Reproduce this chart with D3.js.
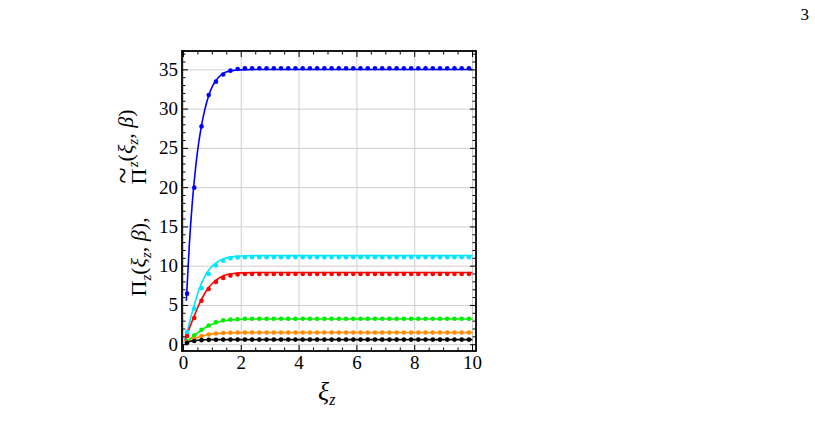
<!DOCTYPE html>
<html>
<head>
<meta charset="utf-8">
<script src="https://cdn.jsdelivr.net/npm/d3@7"></script>
<style>
  body { margin: 0; background: #fff; }
</style>
</head>
<body>
<svg id="chart" width="815" height="440"></svg>
<script>
// sampling points of the solid curves, Pi_z
var lineX = [0.05, 0.1, 0.2, 0.3, 0.4, 0.5, 0.6, 0.7, 0.8, 0.9, 1.0, 1.2, 1.4, 1.6, 1.8, 2.0, 2.5, 3, 4, 6, 8, 10];
var blueLine   = [null, 5.6, 12.5, 17.8, 21.8, 25.0, 27.4, 29.3, 30.8, 32.0, 32.9, 34.0, 34.6, 34.85, 34.95, 35.0, 35.05, 35.05, 35.05, 35.05, 35.05, 35.05];
var cyanLine   = [0.6, 1.3, 2.7, 4.1, 5.4, 6.6, 7.6, 8.4, 9.1, 9.6, 10.0, 10.6, 10.95, 11.15, 11.25, 11.3, 11.35, 11.35, 11.35, 11.35, 11.35, 11.35];
var redLine    = [0.5, 1.0, 2.0, 3.0, 3.9, 4.8, 5.6, 6.3, 6.9, 7.4, 7.8, 8.4, 8.8, 9.0, 9.1, 9.15, 9.2, 9.2, 9.2, 9.2, 9.2, 9.2];
var greenLine  = [0.2, 0.35, 0.65, 0.95, 1.25, 1.55, 1.8, 2.05, 2.25, 2.45, 2.6, 2.85, 3.05, 3.15, 3.2, 3.25, 3.28, 3.28, 3.28, 3.28, 3.28, 3.28];
var orangeLine = [0.15, 0.25, 0.45, 0.6, 0.8, 0.95, 1.05, 1.15, 1.25, 1.32, 1.38, 1.45, 1.5, 1.52, 1.53, 1.54, 1.55, 1.55, 1.55, 1.55, 1.55, 1.55];
var blackLine  = [0.15, 0.25, 0.38, 0.47, 0.53, 0.57, 0.6, 0.62, 0.63, 0.64, 0.65, 0.65, 0.65, 0.65, 0.65, 0.65, 0.65, 0.65, 0.65, 0.65, 0.65, 0.65];

// sampling points of the dotted series, Pi~_z
var dotX = [0.125, 0.375, 0.625, 0.875, 1.125, 1.375, 1.625, 1.875, 2.125, 2.375, 2.625, 2.875, 3.125, 3.375, 3.625, 3.875, 4.125, 4.375, 4.625, 4.875,
            5.125, 5.375, 5.625, 5.875, 6.125, 6.375, 6.625, 6.875, 7.125, 7.375, 7.625, 7.875, 8.125, 8.375, 8.625, 8.875, 9.125, 9.375, 9.625, 9.875];
var blueDots   = [6.5, 20.0, 27.8, 31.8, 33.5, 34.4, 34.9, 35.1, 35.2, 35.2, 35.2, 35.2, 35.2, 35.2, 35.2, 35.2, 35.2, 35.2, 35.2, 35.2,
                  35.2, 35.2, 35.2, 35.2, 35.2, 35.2, 35.2, 35.2, 35.2, 35.2, 35.2, 35.2, 35.2, 35.2, 35.2, 35.2, 35.2, 35.2, 35.2, 35.2];
var cyanDots   = [1.6, 4.6, 7.2, 9.0, 10.1, 10.7, 11.0, 11.1, 11.15, 11.15, 11.15, 11.15, 11.15, 11.15, 11.15, 11.15, 11.15, 11.15, 11.15, 11.15,
                  11.15, 11.15, 11.15, 11.15, 11.15, 11.15, 11.15, 11.15, 11.15, 11.15, 11.15, 11.15, 11.15, 11.15, 11.15, 11.15, 11.15, 11.15, 11.15, 11.15];
var redDots    = [1.1, 3.4, 5.6, 7.1, 8.0, 8.5, 8.8, 8.95, 9.0, 9.0, 9.0, 9.0, 9.0, 9.0, 9.0, 9.0, 9.0, 9.0, 9.0, 9.0,
                  9.0, 9.0, 9.0, 9.0, 9.0, 9.0, 9.0, 9.0, 9.0, 9.0, 9.0, 9.0, 9.0, 9.0, 9.0, 9.0, 9.0, 9.0, 9.0, 9.0];
var greenDots  = [0.45, 1.2, 1.9, 2.45, 2.85, 3.1, 3.2, 3.25, 3.3, 3.3, 3.3, 3.3, 3.3, 3.3, 3.3, 3.3, 3.3, 3.3, 3.3, 3.3,
                  3.3, 3.3, 3.3, 3.3, 3.3, 3.3, 3.3, 3.3, 3.3, 3.3, 3.3, 3.3, 3.3, 3.3, 3.3, 3.3, 3.3, 3.3, 3.3, 3.3];
var orangeDots = [0.3, 0.75, 1.1, 1.3, 1.42, 1.5, 1.53, 1.55, 1.55, 1.55, 1.55, 1.55, 1.55, 1.55, 1.55, 1.55, 1.55, 1.55, 1.55, 1.55,
                  1.55, 1.55, 1.55, 1.55, 1.55, 1.55, 1.55, 1.55, 1.55, 1.55, 1.55, 1.55, 1.55, 1.55, 1.55, 1.55, 1.55, 1.55, 1.55, 1.55];
var blackDots  = [0.25, 0.48, 0.58, 0.62, 0.64, 0.65, 0.65, 0.65, 0.65, 0.65, 0.65, 0.65, 0.65, 0.65, 0.65, 0.65, 0.65, 0.65, 0.65, 0.65,
                  0.65, 0.65, 0.65, 0.65, 0.65, 0.65, 0.65, 0.65, 0.65, 0.65, 0.65, 0.65, 0.65, 0.65, 0.65, 0.65, 0.65, 0.65, 0.65, 0.65];

var seriesColors = ["#0000ff", "#00e6ff", "#ff0000", "#00ee00", "#ff8c00", "#000000"];
var lineSeries = [blueLine, cyanLine, redLine, greenLine, orangeLine, blackLine];
var dotSeries = [blueDots, cyanDots, redDots, greenDots, orangeDots, blackDots];

var xTicks = [0, 2, 4, 6, 8, 10];
var yTicks = [0, 5, 10, 15, 20, 25, 30, 35];

var serif = "Liberation Serif";

var svg = d3.select("#chart");

var x = d3.scaleLinear().domain([-0.05, 10.12]).range([182, 476]);
var y = d3.scaleLinear().domain([-0.8, 37.4]).range([351, 51]);

var pLeft = x.range()[0], pRight = x.range()[1],
    pTop = y.range()[1], pBottom = y.range()[0];

// grid
svg.append("g").selectAll("line").data(xTicks).join("line")
    .attr("x1", d => x(d)).attr("x2", d => x(d))
    .attr("y1", pTop).attr("y2", pBottom)
    .attr("stroke", "#cfcfcf").attr("stroke-width", 1);
svg.append("g").selectAll("line").data(yTicks).join("line")
    .attr("x1", pLeft).attr("x2", pRight)
    .attr("y1", d => y(d)).attr("y2", d => y(d))
    .attr("stroke", "#cfcfcf").attr("stroke-width", 1);

// curves
var line = d3.line()
    .defined(d => d[1] != null)
    .x(d => x(d[0])).y(d => y(d[1]))
    .curve(d3.curveMonotoneX);

lineSeries.forEach(function(vals, i) {
    svg.append("path")
        .attr("d", line(lineX.map((v, j) => [v, vals[j]])))
        .attr("fill", "none")
        .attr("stroke", seriesColors[i])
        .attr("stroke-width", 1.6);
});

dotSeries.forEach(function(vals, i) {
    svg.append("g").selectAll("circle").data(dotX.map((v, j) => [v, vals[j]])).join("circle")
        .attr("cx", d => x(d[0])).attr("cy", d => y(d[1]))
        .attr("r", 2.3)
        .attr("fill", seriesColors[i]);
});

// ticks on all four sides, pointing inward
var xMinor = d3.range(0, 10.01, 0.5).filter(v => xTicks.indexOf(v) < 0);
var yMinor = d3.range(0, 37.01, 1).filter(v => yTicks.indexOf(v) < 0);

function drawTicks(g, vals, len) {
    g.selectAll(null).data(vals.x).join("line")
        .attr("x1", d => x(d)).attr("x2", d => x(d))
        .attr("y1", pBottom).attr("y2", pBottom - len);
    g.selectAll(null).data(vals.x).join("line")
        .attr("x1", d => x(d)).attr("x2", d => x(d))
        .attr("y1", pTop).attr("y2", pTop + len);
    g.selectAll(null).data(vals.y).join("line")
        .attr("x1", pLeft).attr("x2", pLeft + len)
        .attr("y1", d => y(d)).attr("y2", d => y(d));
    g.selectAll(null).data(vals.y).join("line")
        .attr("x1", pRight).attr("x2", pRight - len)
        .attr("y1", d => y(d)).attr("y2", d => y(d));
}
var tg = svg.append("g").attr("stroke", "#000").attr("stroke-width", 1);
drawTicks(tg.append("g"), {x: xTicks, y: yTicks}, 6);
drawTicks(tg.append("g"), {x: xMinor, y: yMinor}, 3.5);

// frame
svg.append("rect")
    .attr("x", pLeft).attr("y", pTop)
    .attr("width", pRight - pLeft).attr("height", pBottom - pTop)
    .attr("fill", "none").attr("stroke", "#000").attr("stroke-width", 1.8);

// tick labels
svg.append("g").selectAll("text").data(xTicks).join("text")
    .attr("x", d => x(d)).attr("y", pBottom + 18)
    .attr("text-anchor", "middle")
    .attr("font-family", serif)
    .attr("font-size", 19)
    .text(d => d);
svg.append("g").selectAll("text").data(yTicks).join("text")
    .attr("x", pLeft - 4).attr("y", d => y(d) + 6)
    .attr("text-anchor", "end")
    .attr("font-family", serif)
    .attr("font-size", 19)
    .text(d => d);

// axis titles
var xt = svg.append("text")
    .attr("x", 318).attr("y", 400)
    .attr("font-family", serif)
    .attr("font-size", 26).attr("font-style", "italic");
xt.append("tspan").text("ξ");
xt.append("tspan").attr("font-size", 16).attr("dy", 5).text("z");

var yt = svg.append("text")
    .attr("transform", "translate(146,203) rotate(-90)")
    .attr("text-anchor", "middle")
    .attr("font-family", serif)
    .attr("font-size", 22);
function piTerm(tilde) {
    yt.append("tspan").text("Π");
    if (tilde) {
        yt.append("tspan").attr("dx", -15).attr("dy", -13).attr("font-size", 30).text("~");
        yt.append("tspan").attr("dx", -1).attr("dy", 13).text("");
    }
    yt.append("tspan").attr("font-size", 15).attr("font-style", "italic").attr("dy", 5).text("z");
    yt.append("tspan").attr("dy", -5).text("(");
    yt.append("tspan").attr("font-style", "italic").text("ξ");
    yt.append("tspan").attr("font-size", 15).attr("font-style", "italic").attr("dy", 5).text("z");
    yt.append("tspan").attr("dy", -5).text(", ");
    yt.append("tspan").attr("font-style", "italic").text("β");
}
piTerm(false);
yt.append("tspan").text("),\u2003\u2002");
piTerm(true);
yt.append("tspan").text(")");

// page number
svg.append("text")
    .attr("x", 809).attr("y", 20)
    .attr("text-anchor", "end")
    .attr("font-family", serif)
    .attr("font-size", 17)
    .text("3");
</script>
</body>
</html>
